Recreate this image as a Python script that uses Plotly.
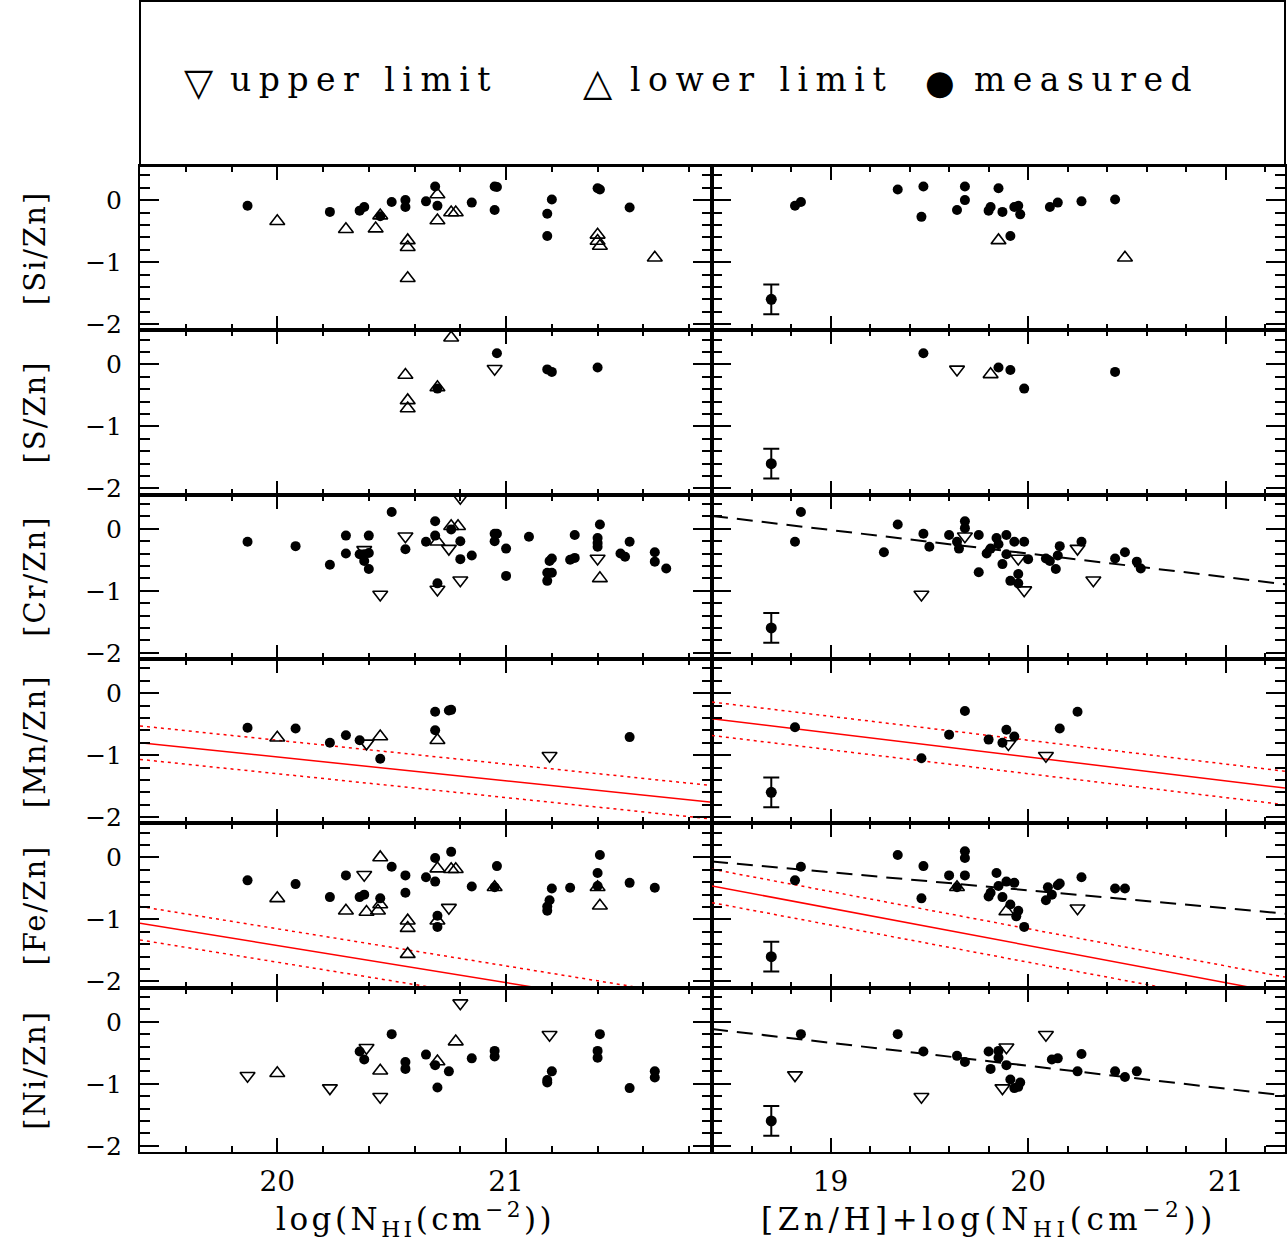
import plotly.graph_objects as go

W, H = 1287, 1243

# ---------------- data ----------------
row_labels = ["[Si/Zn]", "[S/Zn]", "[Cr/Zn]", "[Mn/Zn]", "[Fe/Zn]", "[Ni/Zn]"]
left_xrange = [19.4, 21.9]
right_xrange = [18.4, 21.3]
y_range = [-2.1, 0.55]
left_tickvals = [20, 21]
right_tickvals = [19, 20, 21]
y_tickvals = [0, -1, -2]

# [Si/Zn]
si_left_measured = [(19.87, -0.09), (20.23, -0.19), (20.36, -0.17), (20.38, -0.11), (20.45, -0.26),
                    (20.50, -0.03), (20.56, 0.00), (20.56, -0.11), (20.65, -0.02), (20.69, 0.22),
                    (20.70, -0.09), (20.85, -0.04), (20.95, 0.22), (20.96, 0.21), (20.95, -0.16),
                    (21.18, -0.22), (21.20, 0.01), (21.18, -0.58), (21.40, 0.19), (21.41, 0.17),
                    (21.54, -0.12)]
si_left_upper = []
si_left_lower = [(20.00, -0.34), (20.30, -0.47), (20.43, -0.46), (20.45, -0.25), (20.57, -0.65),
                 (20.57, -0.76), (20.57, -1.26), (20.70, 0.09), (20.70, -0.33), (20.76, -0.20),
                 (20.78, -0.20), (21.40, -0.56), (21.40, -0.66), (21.41, -0.74), (21.65, -0.93)]
si_right_measured = [(18.82, -0.09), (18.85, -0.03), (19.34, 0.17), (19.47, 0.22), (19.46, -0.27),
                     (19.64, -0.16), (19.68, 0.22), (19.68, 0.00), (19.85, 0.19), (19.80, -0.17),
                     (19.81, -0.11), (19.87, -0.19), (19.91, -0.58), (19.93, -0.11), (19.95, -0.09),
                     (19.96, -0.23), (20.11, -0.11), (20.15, -0.04), (20.27, -0.02), (20.44, 0.01)]
si_right_upper = []
si_right_lower = [(19.85, -0.65), (20.49, -0.93)]

# [S/Zn]
s_left_measured = [(20.70, -0.39), (20.96, 0.18), (21.18, -0.08), (21.20, -0.12), (21.40, -0.05)]
s_left_upper = [(20.95, -0.07)]
s_left_lower = [(20.76, 0.43), (20.56, -0.17), (20.70, -0.37), (20.57, -0.58), (20.57, -0.71)]
s_right_measured = [(19.47, 0.18), (19.85, -0.05), (19.91, -0.09), (19.98, -0.39), (20.44, -0.12)]
s_right_upper = [(19.64, -0.08)]
s_right_lower = [(19.81, -0.16)]

# [Cr/Zn]
cr_left_measured = [(19.87, -0.21), (20.08, -0.28), (20.23, -0.58), (20.30, -0.11), (20.30, -0.40),
                    (20.36, -0.41), (20.38, -0.41), (20.38, -0.52), (20.40, -0.39), (20.40, -0.11),
                    (20.40, -0.65), (20.50, 0.27), (20.56, -0.33), (20.65, -0.21), (20.69, 0.12),
                    (20.69, -0.11), (20.70, -0.88), (20.76, -0.01), (20.80, -0.20), (20.80, -0.49),
                    (20.85, -0.43), (20.95, -0.08), (20.96, -0.08), (20.95, -0.20), (21.00, -0.32),
                    (21.00, -0.76), (21.10, -0.13), (21.18, -0.71), (21.20, -0.71), (21.18, -0.84),
                    (21.19, -0.52), (21.20, -0.48), (21.30, -0.10), (21.28, -0.50), (21.30, -0.47),
                    (21.41, 0.07), (21.40, -0.15), (21.40, -0.23), (21.40, -0.29), (21.54, -0.21),
                    (21.50, -0.40), (21.52, -0.45), (21.65, -0.38), (21.65, -0.53), (21.70, -0.64)]
cr_left_upper = [(20.80, 0.50), (20.56, -0.12), (20.38, -0.34), (20.75, -0.32), (20.80, -0.83),
                 (20.70, -0.98), (20.45, -1.06), (21.40, -0.48)]
cr_left_lower = [(20.76, 0.04), (20.79, 0.04), (20.70, -0.21), (21.41, -0.80)]
cr_right_measured = [(18.85, 0.27), (18.82, -0.21), (19.27, -0.38), (19.34, 0.07), (19.47, -0.08),
                     (19.50, -0.29), (19.60, -0.10), (19.64, -0.21), (19.65, -0.32), (19.68, 0.12),
                     (19.68, 0.01), (19.75, -0.10), (19.75, -0.70), (19.79, -0.40), (19.81, -0.32),
                     (19.84, -0.15), (19.85, -0.25), (19.89, -0.10), (19.89, -0.41), (19.87, -0.57),
                     (19.93, -0.21), (19.98, -0.21), (19.95, -0.73), (19.91, -0.84), (19.95, -0.88),
                     (20.00, -0.49), (20.09, -0.48), (20.11, -0.52), (20.15, -0.43), (20.16, -0.28),
                     (20.14, -0.65), (20.27, -0.21), (20.44, -0.48), (20.49, -0.38), (20.55, -0.53),
                     (20.57, -0.64)]
cr_right_upper = [(19.68, -0.12), (19.95, -0.48), (20.25, -0.32), (19.46, -1.06), (19.98, -0.99),
                  (20.33, -0.83)]
cr_right_lower = []

# [Mn/Zn]
mn_left_measured = [(19.87, -0.56), (20.08, -0.57), (20.23, -0.80), (20.30, -0.68), (20.36, -0.76),
                    (20.45, -1.06), (20.69, -0.30), (20.75, -0.28), (20.76, -0.27), (20.69, -0.60),
                    (21.54, -0.71)]
mn_left_upper = [(20.39, -0.81), (21.19, -1.01)]
mn_left_lower = [(20.00, -0.72), (20.45, -0.70), (20.70, -0.76)]
mn_right_measured = [(18.82, -0.55), (19.46, -1.05), (19.60, -0.67), (19.68, -0.29), (19.80, -0.75),
                     (19.87, -0.80), (19.89, -0.59), (19.93, -0.70), (20.16, -0.57), (20.25, -0.30)]
mn_right_upper = [(19.90, -0.82), (20.09, -1.01)]
mn_right_lower = []

# [Fe/Zn]
fe_left_measured = [(19.87, -0.37), (20.08, -0.43), (20.23, -0.64), (20.30, -0.29), (20.36, -0.64),
                    (20.38, -0.60), (20.45, -0.66), (20.50, -0.15), (20.56, -0.29), (20.56, -0.57),
                    (20.65, -0.32), (20.69, -0.01), (20.69, -0.39), (20.76, 0.09), (20.70, -0.94),
                    (20.70, -1.12), (20.85, -0.47), (20.96, -0.14), (20.95, -0.48), (21.20, -0.50),
                    (21.19, -0.69), (21.18, -0.79), (21.18, -0.86), (21.28, -0.49), (21.41, 0.04),
                    (21.40, -0.25), (21.40, -0.46), (21.54, -0.41), (21.65, -0.49)]
fe_left_upper = [(20.38, -0.28), (20.75, -0.81)]
fe_left_lower = [(20.00, -0.66), (20.30, -0.86), (20.39, -0.88), (20.44, -0.86), (20.45, -0.76),
                 (20.45, 0.00), (20.57, -1.02), (20.57, -1.14), (20.57, -1.56), (20.70, -0.18),
                 (20.70, -1.02), (20.76, -0.19), (20.78, -0.19), (20.95, -0.48), (21.40, -0.48),
                 (21.41, -0.78)]
fe_right_measured = [(18.85, -0.15), (18.82, -0.37), (19.34, 0.04), (19.47, -0.14), (19.46, -0.66),
                     (19.60, -0.29), (19.68, 0.10), (19.68, -0.01), (19.68, -0.29), (19.64, -0.48),
                     (19.84, -0.25), (19.85, -0.46), (19.89, -0.39), (19.93, -0.41), (19.81, -0.57),
                     (19.80, -0.63), (19.87, -0.64), (19.91, -0.76), (19.95, -0.86), (19.94, -0.95),
                     (19.98, -1.12), (20.10, -0.48), (20.12, -0.60), (20.09, -0.69), (20.15, -0.45),
                     (20.16, -0.42), (20.27, -0.32), (20.44, -0.50), (20.49, -0.50)]
fe_right_upper = [(20.25, -0.82)]
fe_right_lower = [(19.64, -0.48), (19.89, -0.87)]

# [Ni/Zn]
ni_left_measured = [(20.36, -0.48), (20.38, -0.61), (20.50, -0.20), (20.56, -0.65), (20.56, -0.76),
                    (20.65, -0.53), (20.69, -0.70), (20.75, -0.80), (20.70, -1.06), (20.85, -0.59),
                    (20.95, -0.47), (20.95, -0.56), (21.20, -0.80), (21.18, -0.94), (21.18, -0.98),
                    (21.41, -0.20), (21.40, -0.47), (21.40, -0.58), (21.54, -1.07), (21.65, -0.80),
                    (21.65, -0.90)]
ni_left_upper = [(19.87, -0.87), (20.23, -1.07), (20.45, -1.21), (20.39, -0.42), (20.80, 0.30),
                 (21.19, -0.21)]
ni_left_lower = [(20.00, -0.83), (20.45, -0.79), (20.70, -0.64), (20.78, -0.32)]
ni_right_measured = [(18.85, -0.20), (19.34, -0.20), (19.47, -0.48), (19.64, -0.55), (19.68, -0.65),
                     (19.80, -0.48), (19.85, -0.47), (19.85, -0.58), (19.81, -0.76), (19.89, -0.70),
                     (19.91, -0.93), (19.96, -0.98), (19.93, -1.07), (19.95, -1.05), (20.12, -0.61),
                     (20.15, -0.59), (20.27, -0.52), (20.25, -0.80), (20.44, -0.80), (20.49, -0.89),
                     (20.55, -0.80)]
ni_right_upper = [(18.82, -0.86), (19.46, -1.21), (19.89, -0.41), (20.09, -0.21), (19.87, -1.07)]
ni_right_lower = []

# typical error bar shown in the right-hand panels
err_x = 18.70
err_y = -1.60
err_size = 0.24

# linear relations y = a + b*(x - pivot)
pivot = 20.0
dashed_fit_right = {2: (-0.40, -0.38), 4: (-0.53, -0.29), 5: (-0.71, -0.37)}   # row -> (a, b)
red_fit = {3: (-1.03, -0.385), 4: (-1.42, -0.60)}                              # row -> (a, b)
red_band = 0.27

panels = [
    (si_left_measured, si_left_upper, si_left_lower), (si_right_measured, si_right_upper, si_right_lower),
    (s_left_measured, s_left_upper, s_left_lower), (s_right_measured, s_right_upper, s_right_lower),
    (cr_left_measured, cr_left_upper, cr_left_lower), (cr_right_measured, cr_right_upper, cr_right_lower),
    (mn_left_measured, mn_left_upper, mn_left_lower), (mn_right_measured, mn_right_upper, mn_right_lower),
    (fe_left_measured, fe_left_upper, fe_left_lower), (fe_right_measured, fe_right_upper, fe_right_lower),
    (ni_left_measured, ni_left_upper, ni_left_lower), (ni_right_measured, ni_right_upper, ni_right_lower),
]

# ---------------- figure ----------------
SERIF = "DejaVu Serif"
fig = go.Figure()

col_px = [(140, 712), (712, 1285)]
row_top0, row_h = 166.0, 164.33


def row_dom(r):
    top = row_top0 + r * row_h
    bot = top + row_h
    return [1 - bot / H, 1 - top / H]


def unzip(pts):
    return [p[0] for p in pts], [p[1] for p in pts]


layout = dict(width=W, height=H, margin=dict(l=0, r=0, t=0, b=0, pad=0, autoexpand=False),
              paper_bgcolor="white", plot_bgcolor="white", showlegend=False,
              font=dict(family=SERIF, color="black"))

for k in range(12):
    r, c = divmod(k, 2)
    sx = "" if k == 0 else str(k + 1)
    xr = left_xrange if c == 0 else right_xrange
    layout["xaxis" + sx] = dict(
        domain=[col_px[c][0] / W, col_px[c][1] / W], anchor="y" + sx, range=xr,
        tickmode="array", tickvals=left_tickvals if c == 0 else right_tickvals,
        ticks="inside", ticklen=14, tickwidth=2, tickcolor="black",
        minor=dict(dtick=0.2, tick0=0, ticks="inside", ticklen=6, tickwidth=2, tickcolor="black", showgrid=False),
        showline=True, linewidth=2, linecolor="black", mirror="allticks",
        showgrid=False, zeroline=False, showticklabels=(r == 5), automargin=False,
        tickfont=dict(family=SERIF, size=28, color="black"), ticklabelstandoff=3,
    )
    layout["yaxis" + sx] = dict(
        domain=row_dom(r), anchor="x" + sx, range=y_range,
        tickmode="array", tickvals=y_tickvals,
        ticks="inside", ticklen=19, tickwidth=2, tickcolor="black",
        minor=dict(dtick=0.2, tick0=0, ticks="inside", ticklen=10, tickwidth=2, tickcolor="black", showgrid=False),
        showline=True, linewidth=2, linecolor="black", mirror="allticks",
        showgrid=False, zeroline=False, showticklabels=(c == 0), automargin=False,
        tickfont=dict(family=SERIF, size=25, color="black"), ticklabelstandoff=11,
    )

    xref, yref = "x" + sx, "y" + sx
    meas, upper, lower = panels[k]

    # fit lines
    if r in red_fit:
        a, b = red_fit[r]
        lx = list(xr)
        for off, dash in ((0.0, "solid"), (red_band, "3px,4px"), (-red_band, "3px,4px")):
            ly = [a + off + b * (v - pivot) for v in lx]
            fig.add_trace(go.Scatter(x=lx, y=ly, mode="lines", xaxis=xref, yaxis=yref,
                                     line=dict(color="#ff0000", width=1.5, dash=dash), hoverinfo="skip"))
    if c == 1 and r in dashed_fit_right:
        a, b = dashed_fit_right[r]
        lx = list(xr)
        ly = [a + b * (v - pivot) for v in lx]
        fig.add_trace(go.Scatter(x=lx, y=ly, mode="lines", xaxis=xref, yaxis=yref,
                                 line=dict(color="black", width=2, dash="16px,9px"), hoverinfo="skip"))

    if meas:
        mx, my = unzip(meas)
        fig.add_trace(go.Scatter(x=mx, y=my, mode="markers", xaxis=xref, yaxis=yref,
                                 marker=dict(symbol="circle", size=10, color="black"), name="measured"))
    if upper:
        ux, uy = unzip(upper)
        fig.add_trace(go.Scatter(x=ux, y=uy, mode="markers", xaxis=xref, yaxis=yref,
                                 marker=dict(symbol="triangle-down-open", size=13, color="black",
                                             line=dict(width=1.6, color="black")), name="upper limit"))
    if lower:
        lx_, ly_ = unzip(lower)
        fig.add_trace(go.Scatter(x=lx_, y=ly_, mode="markers", xaxis=xref, yaxis=yref,
                                 marker=dict(symbol="triangle-up-open", size=13, color="black",
                                             line=dict(width=1.6, color="black")), name="lower limit"))
    if c == 1:
        fig.add_trace(go.Scatter(x=[err_x], y=[err_y], mode="markers", xaxis=xref, yaxis=yref,
                                 marker=dict(symbol="circle", size=11, color="black"),
                                 error_y=dict(type="data", array=[err_size], width=8, thickness=2,
                                              color="black")))

annotations = []
# y-axis titles
for r, lab in enumerate(row_labels):
    d = row_dom(r)
    annotations.append(dict(x=35 / W, y=(d[0] + d[1]) / 2, xref="paper", yref="paper",
                            text='<span style="letter-spacing:2px">%s</span>' % lab, textangle=-90,
                            showarrow=False, font=dict(family=SERIF, size=29, color="black"),
                            xanchor="center", yanchor="middle"))
# x-axis titles
annotations.append(dict(x=415 / W, y=1 - 1219 / H, xref="paper", yref="paper",
                        text='<span style="letter-spacing:3.5px">log(N<sub>HI</sub>(cm<sup>−2</sup>))</span>',
                        showarrow=False, font=dict(family=SERIF, size=31, color="black"),
                        xanchor="center", yanchor="middle"))
annotations.append(dict(x=989 / W, y=1 - 1219 / H, xref="paper", yref="paper",
                        text='<span style="letter-spacing:4.6px">[Zn/H]+log(N<sub>HI</sub>(cm<sup>−2</sup>))</span>',
                        showarrow=False, font=dict(family=SERIF, size=31, color="black"),
                        xanchor="center", yanchor="middle"))

# legend box content
legend_items = [("▽", 199, 38, "upper limit", 228), ("△", 598, 38, "lower limit", 628),
                ("●", 940, 34, "measured", 972)]
for sym, sx_, ssz, txt, tx in legend_items:
    annotations.append(dict(x=sx_ / W, y=1 - 82 / H, xref="paper", yref="paper", text=sym,
                            showarrow=False, font=dict(family="DejaVu Sans", size=ssz, color="black"),
                            xanchor="center", yanchor="middle"))
    annotations.append(dict(x=tx / W, y=1 - 80 / H, xref="paper", yref="paper",
                            text='<span style="letter-spacing:7.5px">%s</span>' % txt,
                            showarrow=False, font=dict(family=SERIF, size=33, color="black"),
                            xanchor="left", yanchor="middle"))
layout["annotations"] = annotations
layout["shapes"] = [dict(type="rect", xref="paper", yref="paper", x0=140 / W, x1=1285 / W,
                         y0=1 - 166 / H, y1=1 - 1 / H, line=dict(color="black", width=2))]

fig.update_layout(**layout)
fig.write_html("out.html", config={"displayModeBar": False},
               post_script="document.body.style.margin='0px';")
